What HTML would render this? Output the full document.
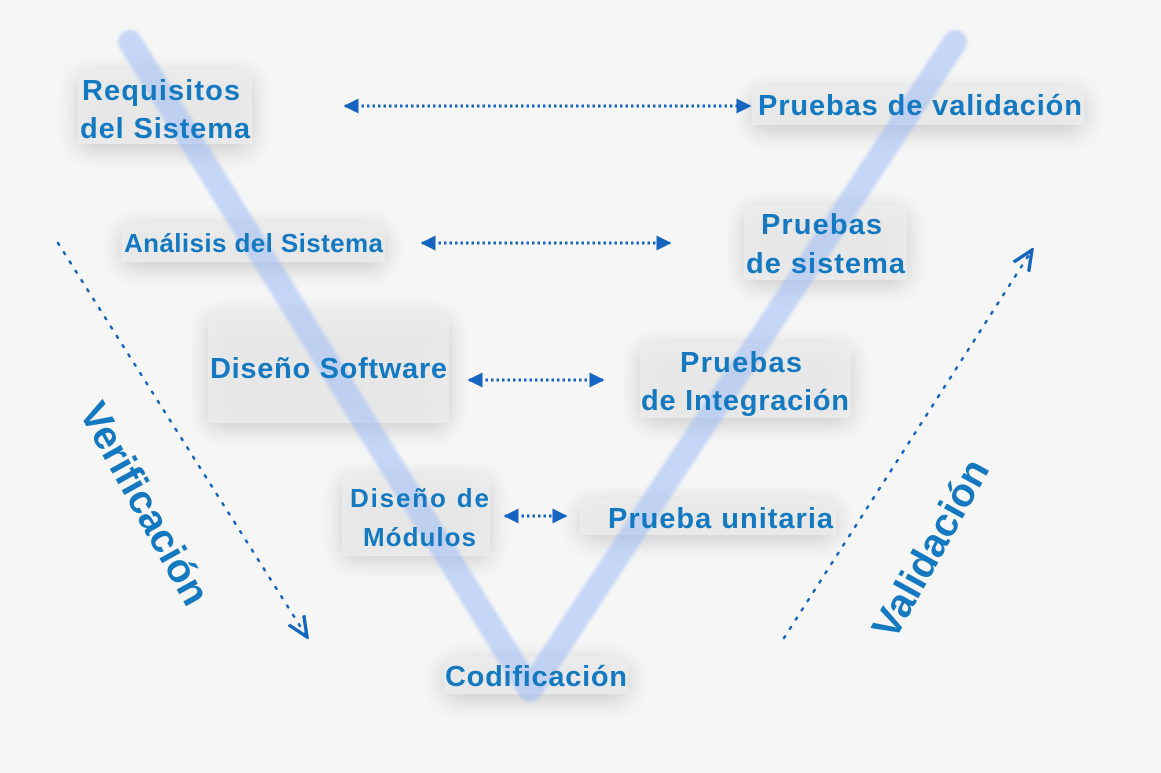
<!DOCTYPE html>
<html><head><meta charset="utf-8"><style>
html,body{margin:0;padding:0;background:#f6f6f6;}
svg{display:block}
text{font-family:"Liberation Sans",sans-serif;font-weight:bold;fill:#1479c0;}
</style></head><body>
<svg width="1161" height="773" viewBox="0 0 1161 773">
<defs>
<filter id="sh" x="-30%" y="-50%" width="160%" height="200%"><feGaussianBlur stdDeviation="12"/></filter>
<filter id="bl"><feGaussianBlur stdDeviation="1.5"/></filter>
<marker id="ah" viewBox="0 0 10 10" refX="9" refY="5" markerWidth="5" markerHeight="5" orient="auto-start-reverse"><path d="M0,0 L10,5 L0,10 z" fill="#1565c0"/></marker>
<marker id="ao" viewBox="0 0 10 10" refX="9" refY="5" markerWidth="9" markerHeight="9" orient="auto"><path d="M0,1 L9,5 L0,9" fill="none" stroke="#1565c0" stroke-width="1.5"/></marker>
</defs>
<rect width="1161" height="773" fill="#f6f6f6"/>
<g fill="#000" opacity="0.18" filter="url(#sh)">
<rect x="78" y="75" width="174" height="75"/>
<rect x="122" y="228" width="263" height="40"/>
<rect x="208" y="318" width="241" height="110"/>
<rect x="342" y="480" width="148" height="80"/>
<rect x="444" y="662" width="184" height="38"/>
<rect x="752" y="92" width="332" height="40"/>
<rect x="744" y="210" width="163" height="75"/>
<rect x="640" y="348" width="211" height="75"/>
<rect x="580" y="504" width="256" height="36"/>
</g>
<g fill="#ececec" fill-opacity="0.85">
<rect x="78" y="69" width="174" height="75"/>
<rect x="122" y="223" width="263" height="39"/>
<rect x="208" y="311" width="241" height="112"/>
<rect x="342" y="475" width="148" height="81"/>
<rect x="444" y="657" width="184" height="37"/>
<rect x="752" y="86" width="332" height="39"/>
<rect x="744" y="205" width="163" height="75"/>
<rect x="640" y="343" width="211" height="75"/>
<rect x="580" y="499" width="256" height="36"/>
</g>
<polyline points="130,42 530,690 955,42" fill="none" stroke="#9dbcf5" stroke-opacity="0.55" stroke-width="24" stroke-linecap="round" stroke-linejoin="round" filter="url(#bl)"/>
<g stroke="#1565c0" stroke-width="3" stroke-dasharray="2.5 3" fill="none" marker-start="url(#ah)" marker-end="url(#ah)">
<line x1="345" y1="106" x2="750" y2="106"/>
<line x1="422" y1="243" x2="670" y2="243"/>
<line x1="469" y1="380" x2="603" y2="380"/>
<line x1="505" y1="516" x2="566" y2="516"/>
</g>
<g stroke="#1565c0" stroke-width="2.5" stroke-dasharray="2 9" stroke-linecap="round" fill="none" marker-end="url(#ao)">
<line x1="58" y1="243" x2="307" y2="637"/>
<line x1="784" y1="638" x2="1032" y2="250"/>
</g>
<g font-size="29" lengthAdjust="spacingAndGlyphs">
<text x="82" y="100" textLength="158">Requisitos</text>
<text x="80" y="138" textLength="170">del Sistema</text>
<text x="124" y="252" textLength="259" font-size="26">Análisis del Sistema</text>
<text x="210" y="378" textLength="237">Diseño Software</text>
<text x="350" y="507" textLength="139" font-size="26">Diseño de</text>
<text x="363" y="546" textLength="113" font-size="26">Módulos</text>
<text x="445" y="686" textLength="182">Codificación</text>
<text x="758" y="115" textLength="324">Pruebas de validación</text>
<text x="761" y="234" textLength="121">Pruebas</text>
<text x="746" y="273" textLength="159">de sistema</text>
<text x="680" y="372" textLength="122">Pruebas</text>
<text x="641" y="410" textLength="208">de Integración</text>
<text x="608" y="528" textLength="225">Prueba unitaria</text>
</g>
<text x="0" y="0" font-size="40" text-anchor="middle" transform="translate(142,505) rotate(61)" dominant-baseline="middle">Verificación</text>
<text x="0" y="0" font-size="40" text-anchor="middle" transform="translate(933,550) rotate(-61)" dominant-baseline="middle">Validación</text>
</svg>
</body></html>
